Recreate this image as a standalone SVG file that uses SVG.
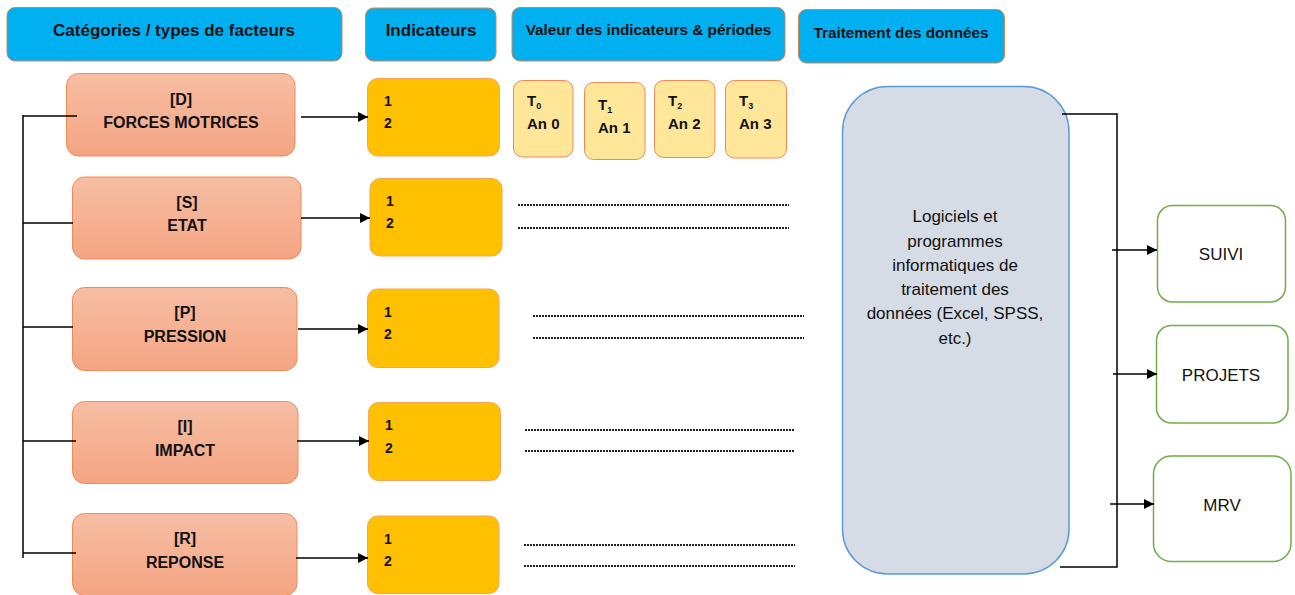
<svg xmlns="http://www.w3.org/2000/svg" width="1295" height="595" viewBox="0 0 1295 595">
<defs>
<linearGradient id="sal" x1="0" y1="0" x2="0" y2="1">
<stop offset="0" stop-color="#F7BEA4"/>
<stop offset="1" stop-color="#F4A583"/>
</linearGradient>
<marker id="arr" viewBox="0 0 10 10" refX="10" refY="5" markerWidth="10" markerHeight="10" markerUnits="userSpaceOnUse" orient="auto">
<path d="M0,0 L10,5 L0,10 z" fill="#000"/>
</marker>
<style>
.hdr{fill:#00B0F0;stroke:#D9824A;stroke-width:1}
.ht{font-family:"Liberation Sans",Arial,sans-serif;font-weight:bold;font-size:17px;fill:#111;text-anchor:middle}
.hs{font-size:15.3px}
.cat{fill:url(#sal);stroke:#F08A55;stroke-width:1}
.ct{font-family:"Liberation Sans",Arial,sans-serif;font-weight:bold;font-size:16px;fill:#111;text-anchor:middle}
.ind{fill:#FFC000;stroke:#F4A460;stroke-width:1}
.it{font-family:"Liberation Sans",Arial,sans-serif;font-weight:bold;font-size:14px;fill:#111}
.tb{fill:#FFE699;stroke:#F08A55;stroke-width:1}
.tt{font-family:"Liberation Sans",Arial,sans-serif;font-weight:bold;font-size:15px;fill:#111}
.sub{font-size:9px}
.big{fill:#D6DCE5;stroke:#5B9BD5;stroke-width:1.5}
.bt{font-family:"Liberation Sans",Arial,sans-serif;font-size:17px;fill:#111;text-anchor:middle}
.out{fill:#fff;stroke:#70AD47;stroke-width:1.5}
.ot{font-family:"Liberation Sans",Arial,sans-serif;font-size:17px;fill:#111;text-anchor:middle}
.ln{stroke:#000;stroke-width:1.5;fill:none}
.ar{stroke:#000;stroke-width:1.5;fill:none;marker-end:url(#arr)}
.dot{stroke:#222;stroke-width:2;stroke-dasharray:2 1;fill:none}
</style>
</defs>
<rect width="1295" height="595" fill="#fff"/>

<g id="h1"><rect class="hdr" x="7" y="7.5" width="335" height="53.5" rx="8"/><text class="ht" x="174" y="36">Catégories / types de facteurs</text></g>
<g id="h2"><rect class="hdr" x="365.5" y="8" width="130.5" height="53" rx="8"/><text class="ht" x="431" y="36">Indicateurs</text></g>
<g id="h3"><rect class="hdr" x="512" y="7.5" width="273" height="53.5" rx="8"/><text class="ht hs" x="648.5" y="35">Valeur des indicateurs &amp; périodes</text></g>
<g id="h4"><rect class="hdr" x="798.5" y="9.5" width="206" height="53.5" rx="8"/><text class="ht hs" x="901" y="38">Traitement des données</text></g>

<g id="catD"><rect class="cat" x="66.5" y="73.5" width="228.5" height="82.5" rx="12"/><text class="ct" x="181" y="105">[D]</text><text class="ct" x="181" y="128">FORCES MOTRICES</text></g>
<g id="catS"><rect class="cat" x="72.5" y="177" width="228.5" height="82" rx="12"/><text class="ct" x="187" y="208">[S]</text><text class="ct" x="187" y="231">ETAT</text></g>
<g id="catP"><rect class="cat" x="72.5" y="287.5" width="224.5" height="83" rx="12"/><text class="ct" x="185" y="318">[P]</text><text class="ct" x="185" y="342">PRESSION</text></g>
<g id="catI"><rect class="cat" x="72.5" y="401.5" width="225.5" height="82" rx="12"/><text class="ct" x="185" y="432">[I]</text><text class="ct" x="185" y="456">IMPACT</text></g>
<g id="catR"><rect class="cat" x="72.5" y="513.5" width="224.5" height="82" rx="12"/><text class="ct" x="185" y="544">[R]</text><text class="ct" x="185" y="568">REPONSE</text></g>

<g id="indD"><rect class="ind" x="367.5" y="78.5" width="132" height="77.5" rx="10"/><text class="it" x="384" y="106">1</text><text class="it" x="384" y="128">2</text></g>
<g id="indS"><rect class="ind" x="370" y="178.5" width="132" height="77.5" rx="10"/><text class="it" x="386" y="206">1</text><text class="it" x="386" y="228">2</text></g>
<g id="indP"><rect class="ind" x="367.5" y="289" width="131.5" height="78.5" rx="10"/><text class="it" x="384" y="317">1</text><text class="it" x="384" y="339">2</text></g>
<g id="indI"><rect class="ind" x="368.5" y="402.5" width="132" height="78" rx="10"/><text class="it" x="385" y="430">1</text><text class="it" x="385" y="453">2</text></g>
<g id="indR"><rect class="ind" x="367.5" y="516" width="131.5" height="77.5" rx="10"/><text class="it" x="384" y="544">1</text><text class="it" x="384" y="566">2</text></g>

<g id="t0"><rect class="tb" x="513.5" y="80.5" width="59.5" height="76.5" rx="9"/><text class="tt" x="527" y="106">T<tspan class="sub" dy="3">0</tspan></text><text class="tt" x="527" y="129">An 0</text></g>
<g id="t1"><rect class="tb" x="584.5" y="82.5" width="60.5" height="77" rx="9"/><text class="tt" x="598" y="110">T<tspan class="sub" dy="3">1</tspan></text><text class="tt" x="598" y="133">An 1</text></g>
<g id="t2"><rect class="tb" x="654.5" y="80.5" width="60.5" height="77" rx="9"/><text class="tt" x="668" y="106">T<tspan class="sub" dy="3">2</tspan></text><text class="tt" x="668" y="129">An 2</text></g>
<g id="t3"><rect class="tb" x="725.5" y="80.5" width="61" height="77.5" rx="9"/><text class="tt" x="739" y="106">T<tspan class="sub" dy="3">3</tspan></text><text class="tt" x="739" y="129">An 3</text></g>

<g id="dots">
<line class="dot" x1="518" y1="205" x2="789" y2="205"/><line class="dot" x1="518" y1="228" x2="789" y2="228"/>
<line class="dot" x1="533" y1="316" x2="804" y2="316"/><line class="dot" x1="533" y1="338" x2="804" y2="338"/>
<line class="dot" x1="525" y1="430" x2="795" y2="430"/><line class="dot" x1="525" y1="451" x2="795" y2="451"/>
<line class="dot" x1="524" y1="545" x2="795" y2="545"/><line class="dot" x1="524" y1="566" x2="795" y2="566"/>
</g>

<g id="proc"><rect class="big" x="842.5" y="86.5" width="226.5" height="487.5" rx="45"/>
<text class="bt" x="955" y="222">Logiciels et</text>
<text class="bt" x="955" y="247">programmes</text>
<text class="bt" x="955" y="271">informatiques de</text>
<text class="bt" x="955" y="295">traitement des</text>
<text class="bt" x="955" y="319">données (Excel, SPSS,</text>
<text class="bt" x="955" y="344">etc.)</text></g>

<g id="suivi"><rect class="out" x="1157.5" y="205.5" width="128" height="96.5" rx="15"/><text class="ot" x="1221" y="260">SUIVI</text></g>
<g id="projets"><rect class="out" x="1156.5" y="325.5" width="131.5" height="97.5" rx="15"/><text class="ot" x="1221" y="381">PROJETS</text></g>
<g id="mrv"><rect class="out" x="1153.5" y="456" width="137.5" height="105.5" rx="18"/><text class="ot" x="1222" y="511">MRV</text></g>

<g id="connectors">
<line class="ln" x1="23" y1="115" x2="23" y2="558"/>
<line class="ln" x1="23" y1="116" x2="77" y2="116"/>
<line class="ln" x1="23" y1="223" x2="73" y2="223"/>
<line class="ln" x1="23" y1="327" x2="73" y2="327"/>
<line class="ln" x1="23" y1="441" x2="76" y2="441"/>
<line class="ln" x1="23" y1="553" x2="76" y2="553"/>
<line class="ar" x1="301" y1="117" x2="368" y2="117"/>
<line class="ar" x1="301" y1="218" x2="370" y2="218"/>
<line class="ar" x1="298" y1="329" x2="368" y2="329"/>
<line class="ar" x1="297" y1="441" x2="369" y2="441"/>
<line class="ar" x1="296" y1="558" x2="368" y2="558"/>
<polyline class="ln" points="1062,114 1117,114 1117,567 1060,567"/>
<line class="ar" x1="1112" y1="250" x2="1157" y2="250"/>
<line class="ar" x1="1113" y1="374" x2="1157" y2="374"/>
<line class="ar" x1="1110" y1="504" x2="1154" y2="504"/>
</g>
</svg>
